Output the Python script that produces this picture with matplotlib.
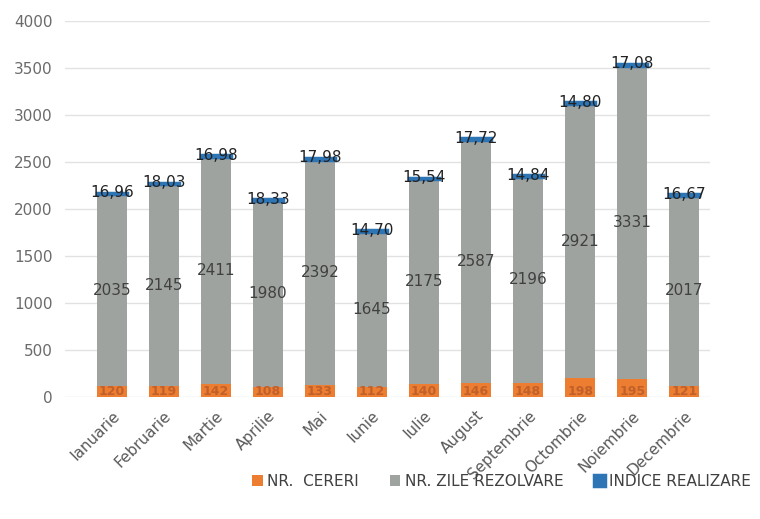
import matplotlib
matplotlib.use("Agg")
import matplotlib.pyplot as plt
import numpy as np

months = ["Ianuarie", "Februarie", "Martie", "Aprilie", "Mai", "Iunie", "Iulie",
          "August", "Septembrie", "Octombrie", "Noiembrie", "Decembrie"]
nr_cereri = [120, 119, 142, 108, 133, 112, 140, 146, 148, 198, 195, 121]
nr_zile = [2035, 2145, 2411, 1980, 2392, 1645, 2175, 2587, 2196, 2921, 3331, 2017]
indice = [16.96, 18.03, 16.98, 18.33, 17.98, 14.70, 15.54, 17.72, 14.84, 14.80, 17.08, 16.67]

c_orange = "#ed7d31"
c_grey = "#9ea39f"
c_blue = "#2e75b6"

fig = plt.figure(figsize=(7.6, 5.19), dpi=100)
ax = fig.add_axes([0.0855, 0.235, 0.849, 0.7245])

x = np.arange(len(months))
w = 0.58
cer = np.array(nr_cereri, float)
zil = np.array(nr_zile, float)
ind = np.array(indice, float)

ax.bar(x, cer, w, color=c_orange, label="NR.  CERERI", zorder=3)
ax.bar(x, zil, w, bottom=cer, color=c_grey, label="NR. ZILE REZOLVARE", zorder=3)
ax.bar(x, ind, w, bottom=cer + zil, color=c_blue, label="INDICE REALIZARE", zorder=3,
       edgecolor=c_blue, linewidth=2.5)

for i in range(len(months)):
    ax.text(x[i], 60, f"{nr_cereri[i]}", ha="center", va="center", fontsize=9,
            color="#c0602a", fontweight="bold", zorder=5)
    ax.text(x[i], cer[i] + zil[i] / 2, f"{nr_zile[i]}", ha="center", va="center",
            fontsize=11, color="#404040", zorder=5)
    ax.text(x[i], cer[i] + zil[i] + ind[i], f"{indice[i]:.2f}".replace(".", ","),
            ha="center", va="center", fontsize=11, color="#222222", zorder=5)

ax.set_ylim(0, 4000)
ax.set_yticks(np.arange(0, 4001, 500))
ax.set_xlim(-0.9, 11.5)
ax.set_xticks(x)
ax.set_xticklabels(months, rotation=45, ha="right", rotation_mode="anchor",
                   fontsize=11, color="#595959")
ax.tick_params(axis="y", labelsize=11, labelcolor="#6b6b6b", length=0, pad=9)
ax.tick_params(axis="x", length=0, pad=8)
ax.grid(axis="y", color="#e2e2e2", linewidth=1, zorder=0)
for s in ax.spines.values():
    s.set_visible(False)

fig.legend(loc="center", bbox_to_anchor=(0.66, 0.072), ncol=3, frameon=False,
           fontsize=11, handlelength=0.7, handleheight=0.7, handletextpad=0.3,
           columnspacing=2.0, labelcolor="#404040")

fig.savefig("out.png", dpi=100)
